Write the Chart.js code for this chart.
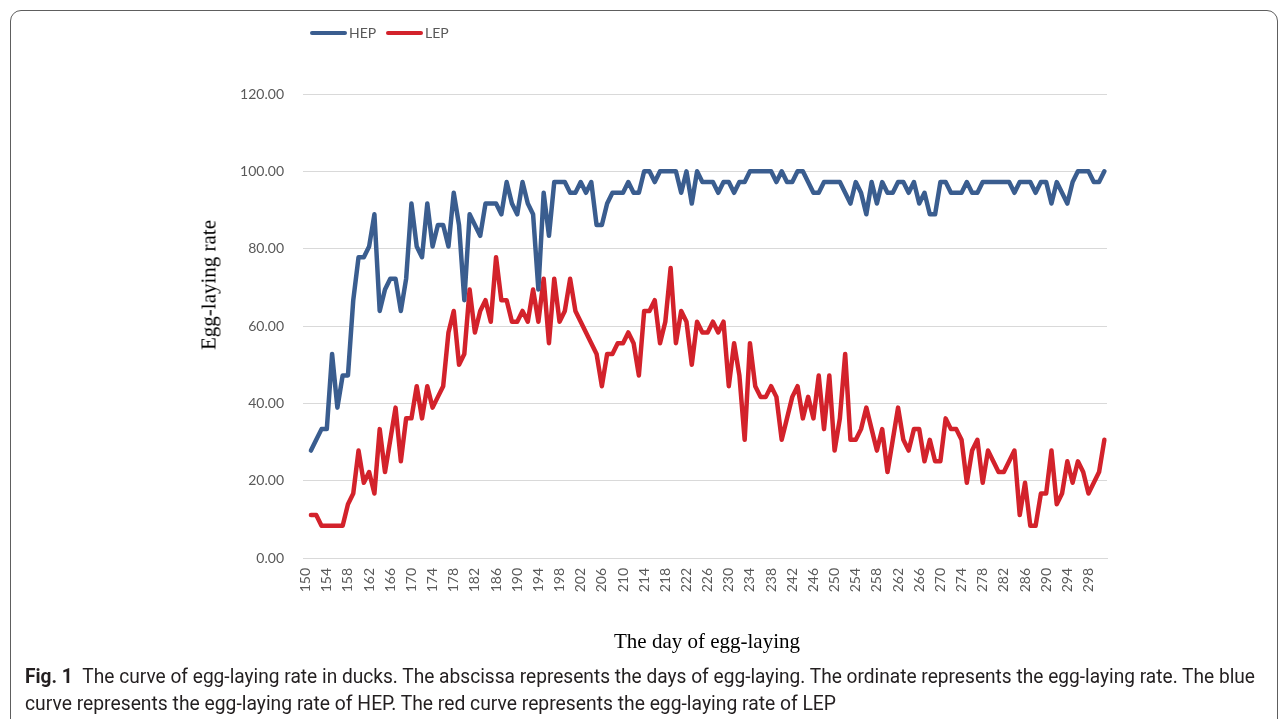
<!DOCTYPE html>
<html>
<head>
<meta charset="utf-8">
<script src="https://cdn.jsdelivr.net/npm/chart.js@4.4.1/dist/chart.umd.min.js"></script>
<style>
  html, body { margin: 0; padding: 0; background: #ffffff; }
  body { width: 1284px; height: 719px; overflow: hidden; position: relative; font-family: Lato, sans-serif; }
  #frame { position: absolute; left: 10px; top: 10px; width: 1268px; height: 760px; border: 1px solid #5e5e5e; border-radius: 11px; box-sizing: border-box; }
  #chart { position: absolute; left: 0; top: 0; }
  .leg { position: absolute; top: 24px; height: 17px; display: flex; align-items: center; font: 14px Lato, sans-serif; color: #595959; white-space: nowrap; }
  .leg i { display: inline-block; width: 37px; height: 4px; border-radius: 2px; margin-right: 2px; }
  .ytitle { position: absolute; left: 209px; top: 285px; transform: translate(-50%, -50%) rotate(-90deg); font: 21px "Liberation Serif", serif; color: #000; white-space: nowrap; }
  .xtitle { position: absolute; left: 707px; top: 641px; transform: translate(-50%, -50%); font: 21px "Liberation Serif", serif; color: #000; white-space: nowrap; }
  .cap { position: absolute; left: 25px; white-space: nowrap; font: 20px Roboto, sans-serif; color: #231f20; transform-origin: 0 0; line-height: 22px; }
  .cap b { font-weight: 700; margin-right: 10px; }
</style>
</head>
<body>
<div id="frame"></div>
<canvas id="chart" width="1284" height="719"></canvas>
<div class="ytitle">Egg-laying rate</div>
<div class="xtitle">The day of egg-laying</div>
<div class="cap" id="cap1" data-w="1230" style="top:665px"><b>Fig. 1</b>The curve of egg-laying rate in ducks. The abscissa represents the days of egg-laying. The ordinate represents the egg-laying rate. The blue</div>
<div class="cap" id="cap2" data-w="811" style="top:692px">curve represents the egg-laying rate of HEP. The red curve represents the egg-laying rate of LEP</div>
<script>
// Category axis: day of egg-laying
const days = [
  150,151,152,153,154,155,156,157,158,159,160,161,162,163,164,165,166,167,168,169,
  170,171,172,173,174,175,176,177,178,179,180,181,182,183,184,185,186,187,188,189,
  190,191,192,193,194,195,196,197,198,199,200,201,202,203,204,205,206,207,208,209,
  210,211,212,213,214,215,216,217,218,219,220,221,222,223,224,225,226,227,228,229,
  230,231,232,233,234,235,236,237,238,239,240,241,242,243,244,245,246,247,248,249,
  250,251,252,253,254,255,256,257,258,259,260,261,262,263,264,265,266,267,268,269,
  270,271,272,273,274,275,276,277,278,279,280,281,282,283,284,285,286,287,288,289,
  290,291,292,293,294,295,296,297,298,299,300,301
];

// Labelled ticks on the x axis
const xTickLabels = [150,154,158,162,166,170,174,178,182,186,190,194,198,202,206,210,214,218,222,226,
  230,234,238,242,246,250,254,258,262,266,270,274,278,282,286,290,294,298];

// Y axis ticks
const yTicks = [0, 20, 40, 60, 80, 100, 120];

// HEP egg-laying rate (first category has no point)
const hep = [null,
  27.78,30.56,33.33,33.33,52.78,38.89,47.22,47.22,66.67,77.78,
  77.78,80.56,88.89,63.89,69.44,72.22,72.22,63.89,72.22,91.67,
  80.56,77.78,91.67,80.56,86.11,86.11,80.56,94.44,86.11,66.67,
  88.89,86.11,83.33,91.67,91.67,91.67,88.89,97.22,91.67,88.89,
  97.22,91.67,88.89,69.44,94.44,83.33,97.22,97.22,97.22,94.44,
  94.44,97.22,94.44,97.22,86.11,86.11,91.67,94.44,94.44,94.44,
  97.22,94.44,94.44,100,100,97.22,100,100,100,100,
  94.44,100,91.67,100,97.22,97.22,97.22,94.44,97.22,97.22,
  94.44,97.22,97.22,100,100,100,100,100,97.22,100,
  97.22,97.22,100,100,97.22,94.44,94.44,97.22,97.22,97.22,
  97.22,94.44,91.67,97.22,94.44,88.89,97.22,91.67,97.22,94.44,
  94.44,97.22,97.22,94.44,97.22,91.67,94.44,88.89,88.89,97.22,
  97.22,94.44,94.44,94.44,97.22,94.44,94.44,97.22,97.22,97.22,
  97.22,97.22,97.22,94.44,97.22,97.22,97.22,94.44,97.22,97.22,
  91.67,97.22,94.44,91.67,97.22,100,100,100,97.22,97.22,100
];

// LEP egg-laying rate (first category has no point)
const lep = [null,
  11.11,11.11,8.33,8.33,8.33,8.33,8.33,13.89,16.67,27.78,
  19.44,22.22,16.67,33.33,22.22,30.56,38.89,25.00,36.11,36.11,
  44.44,36.11,44.44,38.89,41.67,44.44,58.33,63.89,50.00,52.78,
  69.44,58.33,63.89,66.67,61.11,77.78,66.67,66.67,61.11,61.11,
  63.89,61.11,69.44,61.11,72.22,55.56,72.22,61.11,63.89,72.22,
  63.89,61.11,58.33,55.56,52.78,44.44,52.78,52.78,55.56,55.56,
  58.33,55.56,47.22,63.89,63.89,66.67,55.56,61.11,75.00,55.56,
  63.89,61.11,50.00,61.11,58.33,58.33,61.11,58.33,61.11,44.44,
  55.56,47.22,30.56,55.56,44.44,41.67,41.67,44.44,41.67,30.56,
  36.11,41.67,44.44,36.11,41.67,36.11,47.22,33.33,47.22,27.78,
  36.11,52.78,30.56,30.56,33.33,38.89,33.33,27.78,33.33,22.22,
  30.56,38.89,30.56,27.78,33.33,33.33,25.00,30.56,25.00,25.00,
  36.11,33.33,33.33,30.56,19.44,27.78,30.56,19.44,27.78,25.00,
  22.22,22.22,25.00,27.78,11.11,19.44,8.33,8.33,16.67,16.67,
  27.78,13.89,16.67,25.00,19.44,25.00,22.22,16.67,19.44,22.22,30.56
];

const seriesNames = ['HEP', 'LEP'];
const seriesColors = ['#3a5d8f', '#d3222b'];
const tickFont = { family: 'Lato', size: 14 };
const tickColor = '#595959';
const gridColor = '#d9d9d9';

const chart = new Chart(document.getElementById('chart'), {
  type: 'line',
  data: {
    labels: days,
    datasets: [hep, lep].map((vals, k) => ({
      label: seriesNames[k],
      data: vals,
      borderColor: seriesColors[k],
      backgroundColor: seriesColors[k],
      borderWidth: 4.5,
      pointRadius: 0,
      pointHoverRadius: 0,
      tension: 0,
      fill: false,
      spanGaps: false,
      borderJoinStyle: 'round',
      borderCapStyle: 'round'
    }))
  },
  options: {
    responsive: false,
    animation: false,
    events: [],
    layout: { padding: { left: 0, top: 94, right: 177, bottom: 101 } },
    plugins: { legend: { display: false }, tooltip: { enabled: false }, title: { display: false } },
    scales: {
      x: {
        type: 'category',
        offset: true,
        grid: { display: false, drawTicks: false },
        border: { display: true, color: gridColor, width: 1 },
        ticks: {
          autoSkip: false,
          maxRotation: 90,
          minRotation: 90,
          padding: 10,
          font: tickFont,
          color: tickColor,
          callback: function (value) {
            const lab = this.getLabelForValue(value);
            return xTickLabels.includes(lab) ? String(lab) : null;
          }
        },
        afterFit: (s) => { s.height = 60; }
      },
      y: {
        min: yTicks[0],
        max: yTicks[yTicks.length - 1],
        grid: { color: gridColor, lineWidth: 1, drawTicks: false },
        border: { display: false },
        ticks: {
          stepSize: yTicks[1] - yTicks[0],
          padding: 19,
          font: tickFont,
          color: tickColor,
          callback: (v) => Number(v).toFixed(2)
        },
        afterFit: (s) => { s.width = 303; }
      }
    }
  }
});

// Legend built from the chart's datasets
const legendX = [310, 386];
chart.data.datasets.forEach((ds, k) => {
  const el = document.createElement('div');
  el.className = 'leg';
  el.style.left = legendX[k] + 'px';
  const sw = document.createElement('i');
  sw.style.background = ds.borderColor;
  el.appendChild(sw);
  el.appendChild(document.createTextNode(ds.label));
  document.body.appendChild(el);
});

function fitCaptions() {
  document.querySelectorAll('.cap').forEach(el => {
    el.style.transform = 'none';
    const w = el.getBoundingClientRect().width;
    el.style.transform = 'scaleX(' + (parseFloat(el.dataset.w) / w) + ')';
  });
}
fitCaptions();
if (document.fonts && document.fonts.ready) document.fonts.ready.then(fitCaptions);
</script>
</body>
</html>
